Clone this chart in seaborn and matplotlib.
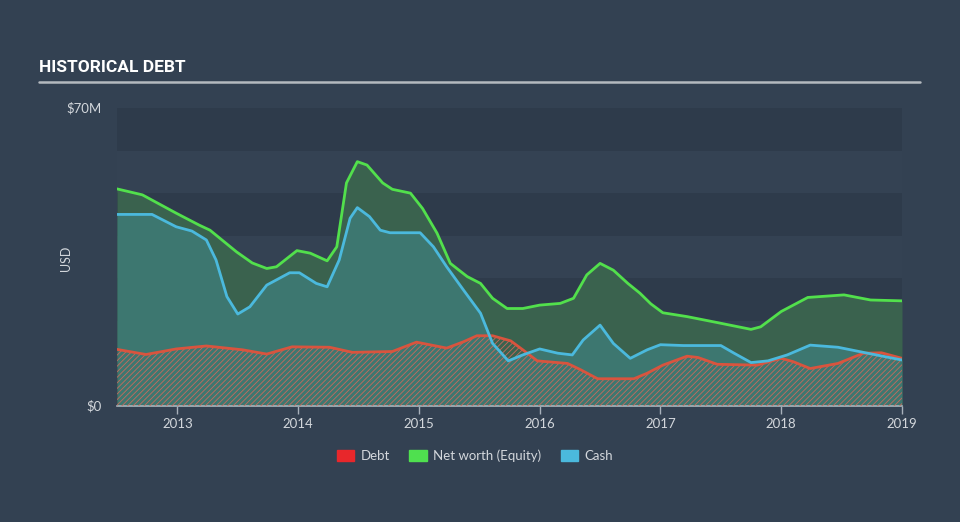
import numpy as np
import pandas as pd
import matplotlib
matplotlib.use("Agg")
import matplotlib.pyplot as plt
import seaborn as sns

# ---- data (USD millions, x in decimal years) ----
eq_x = [2012.5, 2012.71, 2012.99, 2013.18, 2013.27, 2013.49, 2013.62, 2013.74, 2013.82, 2013.99,
        2014.10, 2014.24, 2014.32, 2014.40, 2014.49, 2014.57, 2014.70, 2014.78, 2014.93, 2015.03,
        2015.15, 2015.26, 2015.40, 2015.51, 2015.61, 2015.73, 2015.86, 2016.00, 2016.17, 2016.28,
        2016.39, 2016.50, 2016.61, 2016.73, 2016.83, 2016.92, 2017.02, 2017.22, 2017.47, 2017.75,
        2017.83, 2018.00, 2018.22, 2018.52, 2018.74, 2019.0]
eq_y = [51.0, 49.6, 45.3, 42.5, 41.3, 36.2, 33.6, 32.3, 32.7, 36.5,
        35.9, 34.1, 37.4, 52.4, 57.4, 56.6, 52.4, 50.9, 50.0, 46.4,
        40.6, 33.5, 30.4, 28.8, 25.3, 22.9, 22.9, 23.7, 24.1, 25.3,
        30.8, 33.5, 31.9, 28.8, 26.5, 24.0, 21.9, 21.0, 19.6, 18.0,
        18.6, 22.2, 25.5, 26.1, 24.9, 24.7]

cash_x = [2012.5, 2012.79, 2012.99, 2013.12, 2013.24, 2013.32, 2013.41, 2013.50, 2013.60, 2013.74,
          2013.93, 2014.01, 2014.15, 2014.24, 2014.34, 2014.43, 2014.49, 2014.59, 2014.68, 2014.76,
          2015.01, 2015.12, 2015.23, 2015.37, 2015.51, 2015.61, 2015.74, 2015.86, 2016.00, 2016.15,
          2016.27, 2016.36, 2016.50, 2016.61, 2016.75, 2016.89, 2017.00, 2017.19, 2017.50, 2017.61,
          2017.75, 2017.89, 2018.05, 2018.24, 2018.47, 2018.68, 2019.0]
cash_y = [45.0, 45.0, 42.1, 41.1, 39.0, 34.3, 25.7, 21.6, 23.3, 28.4,
          31.3, 31.3, 28.8, 28.0, 34.3, 44.1, 46.6, 44.5, 41.3, 40.7,
          40.7, 37.4, 32.7, 27.2, 21.8, 14.7, 10.6, 12.0, 13.4, 12.4,
          12.0, 15.5, 19.0, 14.7, 11.2, 13.2, 14.4, 14.2, 14.2, 12.4,
          10.2, 10.6, 12.0, 14.3, 13.8, 12.6, 10.8]

debt_x = [2012.5, 2012.74, 2012.99, 2013.24, 2013.54, 2013.74, 2013.95, 2014.26, 2014.45, 2014.78,
          2014.98, 2015.23, 2015.37, 2015.48, 2015.61, 2015.76, 2015.86, 2015.98, 2016.23, 2016.34,
          2016.48, 2016.78, 2016.89, 2017.02, 2017.22, 2017.31, 2017.47, 2017.80, 2018.00, 2018.10,
          2018.24, 2018.47, 2018.68, 2018.83, 2019.0]
debt_y = [13.3, 12.1, 13.4, 14.1, 13.2, 12.2, 13.9, 13.8, 12.6, 12.8,
          15.0, 13.6, 15.1, 16.5, 16.5, 15.3, 13.2, 10.6, 10.0, 8.5,
          6.4, 6.4, 7.7, 9.6, 11.7, 11.4, 9.8, 9.6, 11.2, 10.4,
          8.8, 10.0, 12.4, 12.5, 11.2]

years = [2013, 2014, 2015, 2016, 2017, 2018, 2019]
year_labels = ["2013", "2014", "2015", "2016", "2017", "2018", "2019"]
y_ticks = [0, 70]
y_tick_labels = ["$0", "$70M"]
legend_labels = ["Debt", "Net worth (Equity)", "Cash"]

# ---- style ----
BG = "#334152"
EQ_C = "#52e04c"
CASH_C = "#4bb9dd"
TXT = "#d3d7dc"

sns.set_theme(style="dark")
plt.rcParams["font.family"] = ["Lato", "DejaVu Sans"]
plt.rcParams["hatch.linewidth"] = 0.6

fig = plt.figure(figsize=(9.6, 5.22), dpi=100)
fig.patch.set_facecolor(BG)
ax = fig.add_axes([117 / 960, 1 - 406 / 522, (902 - 117) / 960, (406 - 108) / 522])
ax.set_facecolor(BG)

# alternating bands
for lo in range(0, 70, 10):
    col = "#2e3b4b" if (lo // 10) % 2 == 0 else "#344253"
    ax.axhspan(lo, lo + 10, color=col, zorder=0, lw=0)

eq = pd.DataFrame({"x": eq_x, "y": eq_y})
cash = pd.DataFrame({"x": cash_x, "y": cash_y})
debt = pd.DataFrame({"x": debt_x, "y": debt_y})

ax.fill_between(eq.x, 0, eq.y, color="#3a624e", lw=0, zorder=1)
ax.fill_between(cash.x, 0, cash.y, color="#3d7770", lw=0, zorder=2)
ax.fill_between(debt.x, 0, debt.y, facecolor="none", edgecolor="#c86a5c", hatch="//////", lw=0, zorder=3)

kw = dict(solid_joinstyle="round", solid_capstyle="round")
sns.lineplot(data=eq, x="x", y="y", color=EQ_C, lw=2, ax=ax, zorder=5, **kw)
sns.lineplot(data=cash, x="x", y="y", color=CASH_C, lw=2, ax=ax, zorder=5, **kw)
sns.lineplot(data=debt, x="x", y="y", color="#d9543e", lw=2, ax=ax, zorder=4, **kw)

ax.set_xlim(2012.5, 2019.0)
ax.set_ylim(0, 70)
ax.set_xticks(years)
ax.set_xticklabels(year_labels, color=TXT, fontsize=9.5)
ax.set_yticks(y_ticks)
ax.set_yticklabels(y_tick_labels, color=TXT, fontsize=9.5)
ax.tick_params(axis="x", length=6, width=1, color="#a8b1bb", pad=3, bottom=True)
ax.tick_params(axis="y", length=0, pad=11)
for lbl in ax.get_yticklabels():
    lbl.set_verticalalignment("center")
ax.set_xlabel("")
ax.set_ylabel("USD", color=TXT, fontsize=9)
ax.yaxis.set_label_coords(-0.057, 0.497)
for s in ["top", "left", "right"]:
    ax.spines[s].set_visible(False)
ax.spines["bottom"].set_visible(True)
ax.spines["bottom"].set_color("#a8b1bb")
ax.spines["bottom"].set_linewidth(1.2)
ax.grid(False)

# title and rule
fig.text(39 / 960, 1 - 68 / 522, "HISTORICAL DEBT", color="white", fontsize=12.5,
         fontweight="bold", family=["Roboto", "DejaVu Sans"],
         va="center", ha="left")
fig.add_artist(plt.Line2D([39 / 960, 920 / 960], [1 - 82 / 522, 1 - 82 / 522], color="#b4b9bf", lw=1.8))

# legend
handles = [plt.Rectangle((0, 0), 1, 1, color=c) for c in ["#e8272b", "#4fe04f", "#4bb9dd"]]
leg = fig.legend(handles, legend_labels, loc="center", bbox_to_anchor=(475 / 960, 1 - 456 / 522),
                 ncol=3, frameon=False, fontsize=9.5, handlelength=1.3, handleheight=0.9,
                 columnspacing=1.5, handletextpad=0.5)
for t in leg.get_texts():
    t.set_color(TXT)

fig.savefig("out.png", dpi=100, facecolor=BG)
